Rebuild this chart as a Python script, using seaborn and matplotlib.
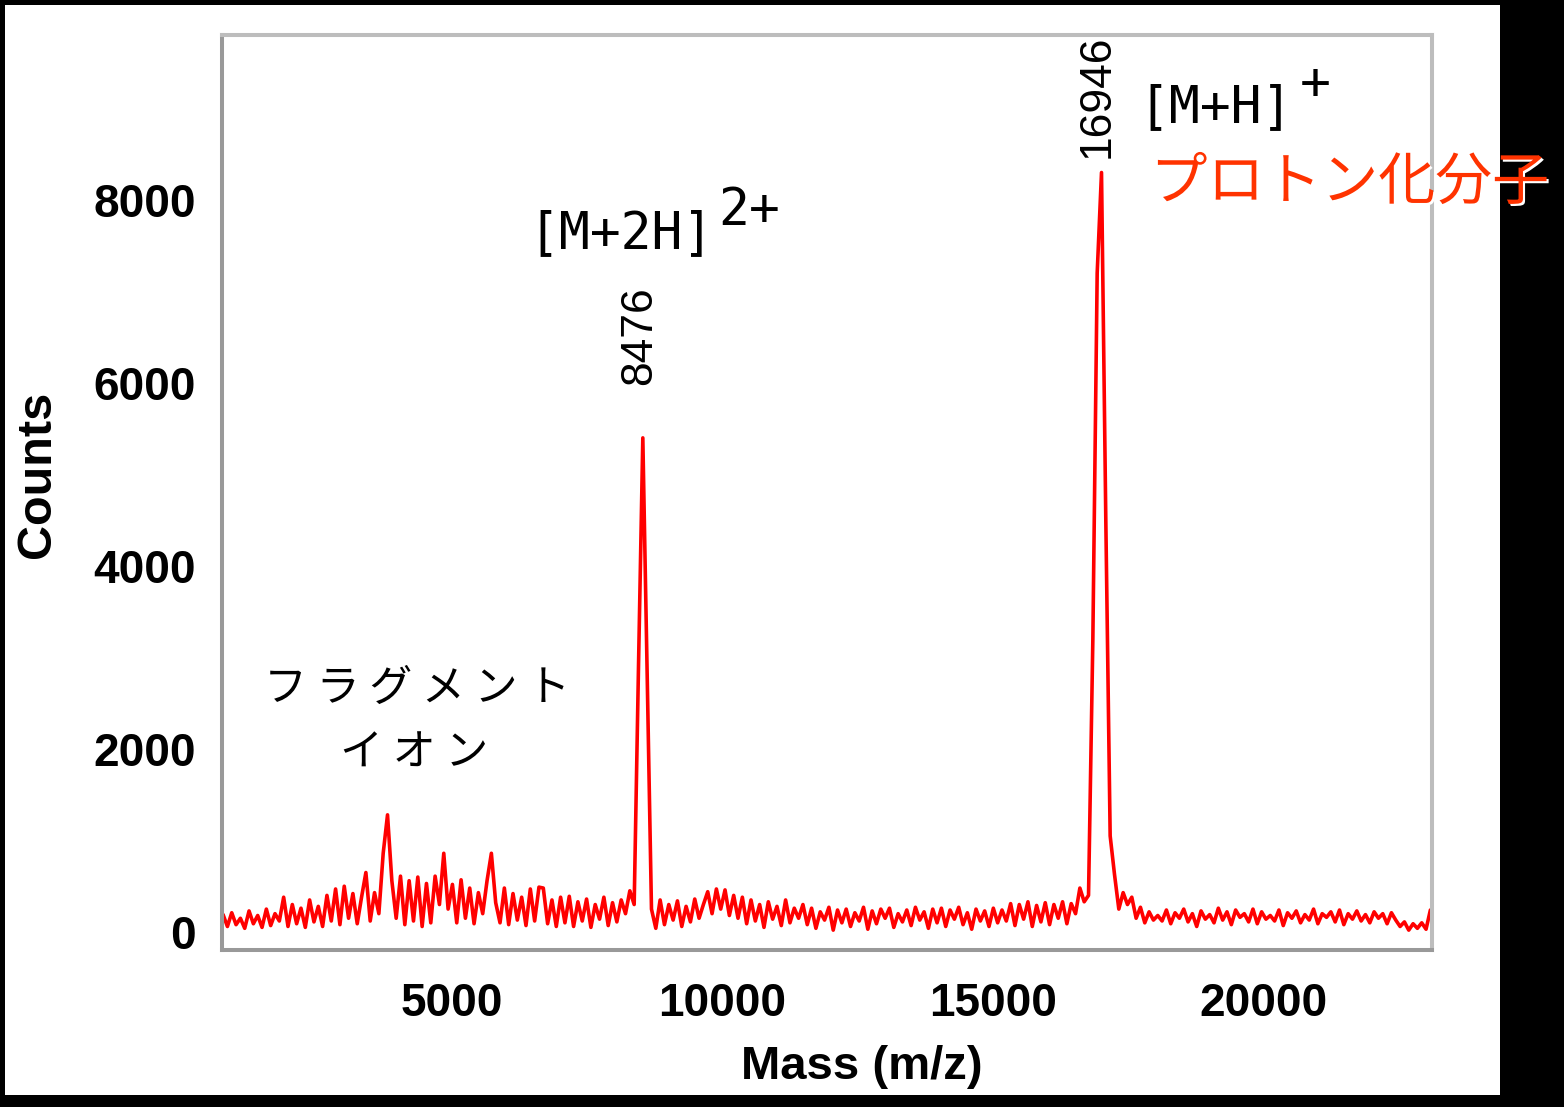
import numpy as np
import pandas as pd
import matplotlib
matplotlib.use("Agg")
import matplotlib.pyplot as plt
import matplotlib.patheffects as pe
from matplotlib.patches import Rectangle
import seaborn as sns

# spectrum sampled every 80 Da, stored as segments (start mass, counts)
MASS_STEP = 80

# fragment ion region, starts at 770 Da
noise_low = [190, 60, 210, 80, 150, 40, 230, 90, 180, 50, 250, 70, 200,
             120, 380, 60, 300, 90, 260, 50, 350, 110, 280, 60, 400,
             120, 470, 80, 500, 150, 420, 90, 380, 650, 120, 430, 200,
             860, 1280, 560,
             150, 610, 80, 560, 120, 600, 60, 530, 100, 610, 300,
             860,
             250, 520, 100, 570, 150, 480, 90, 430, 200, 560, 860, 320, 100,
             480, 80, 420, 130, 380, 70, 470, 120, 490, 480, 90, 350, 60, 380,
             100, 390, 60, 330, 120, 360, 50, 300, 140, 380, 70, 320, 110, 350, 200, 450, 300]
noise_low_start = 770

# [M+2H]2+ peak
peak_2h = [2900, 5400, 2800]
peak_2h_start = 8450

noise_mid = [250, 40, 350, 80, 300, 130, 340, 60, 280, 110, 360, 150,
             300, 440, 200, 470, 250, 460, 180, 400, 150, 380,
             90, 350, 120, 300, 50, 330, 140, 280, 70, 350, 100, 260, 150, 300,
             80, 260, 40, 220, 130, 270, 20, 240, 100, 250,
             60, 210, 120, 270, 30, 230, 90, 250, 150, 260,
             50, 200, 110, 240, 70, 270, 130, 220, 40, 250,
             100, 260, 60, 240, 140, 270, 80, 210, 30, 250,
             120, 230, 60, 260, 100, 240,
             120, 310, 70, 300, 140, 330, 60, 290, 110, 320, 80, 300, 150, 330, 90, 310, 200,
             480, 330, 400]
noise_mid_start = 8690

# [M+H]+ peak
peak_h = [3200, 7200, 8300, 4480, 1050, 630]
peak_h_start = 16850

noise_high = [250, 430, 300, 380, 150, 270, 100, 220, 130,
              180, 120, 240, 90, 210, 150, 250, 110, 200, 60,
              230, 140, 190, 100, 260, 130, 220, 80, 240, 160,
              200, 110, 250, 90, 220, 140, 180, 120, 240, 70,
              210, 150, 230, 100, 190, 130, 250, 90, 200, 160,
              220, 110, 240, 80, 200, 140, 230, 120, 190, 100,
              220, 150, 200, 90, 210, 130,
              60, 110, 20, 90, 40, 100, 30, 240]
noise_high_start = 17330

mass_ticks = [5000, 10000, 15000, 20000]
count_ticks = [0, 2000, 4000, 6000, 8000]

segments = [(noise_low_start, noise_low), (peak_2h_start, peak_2h),
            (noise_mid_start, noise_mid), (peak_h_start, peak_h),
            (noise_high_start, noise_high)]
frames = []
for start, vals in segments:
    frames.append(pd.DataFrame({
        "mass": start + MASS_STEP * np.arange(len(vals)),
        "counts": vals,
    }))
df = pd.concat(frames, ignore_index=True).sort_values("mass")

sns.set_style("white")
plt.rcParams["font.family"] = ["Liberation Sans", "DejaVu Sans"]
plt.rcParams["text.color"] = "black"
plt.rcParams["axes.labelcolor"] = "black"

W, H = 1564, 1107
fig = plt.figure(figsize=(W / 100, H / 100), dpi=100, facecolor="black")
fig.patches.append(Rectangle((5 / W, 12 / H), 1495 / W, 1090 / H,
                             transform=fig.transFigure, facecolor="white",
                             edgecolor="none", zorder=-1))

ax = fig.add_axes([222 / W, 1 - 950 / H, 1210 / W, 915 / H])
sns.lineplot(data=df, x="mass", y="counts", ax=ax, color="#ff0000",
             linewidth=2.6, estimator=None, sort=False)

ax.set_xlim(750, 23120)
ax.set_ylim(-197, 9803)
ax.set_xticks(mass_ticks, labels=[str(t) for t in mass_ticks],
              fontsize=33, fontweight="bold")
ax.set_yticks(count_ticks, labels=[str(t) for t in count_ticks],
              fontsize=33, fontweight="bold")
ax.tick_params(axis="both", direction="out", length=15, width=3.5,
               color="#8a8a8a", labelcolor="black")
ax.tick_params(axis="x", pad=8)
ax.tick_params(axis="y", pad=4)

for side in ["left", "bottom"]:
    ax.spines[side].set_color("#999999")
    ax.spines[side].set_linewidth(2.9)
for side in ["top", "right"]:
    ax.spines[side].set_color("#bdbdbd")
    ax.spines[side].set_linewidth(2.9)

ax.set_xlabel("Mass (m/z)", fontsize=34, fontweight="bold")
ax.set_ylabel("Counts", fontsize=35, fontweight="bold")
ax.xaxis.set_label_coords(0.529, -0.104)
ax.yaxis.set_label_coords(-0.134, 0.52)

# peak mass labels
p2 = df.loc[df["mass"].between(8400, 8700)].sort_values("counts").iloc[-1]
p1 = df.loc[df["mass"].between(16800, 17200)].sort_values("counts").iloc[-1]
ax.annotate("8476", xy=(p2["mass"], p2["counts"]), xytext=(-3, 102),
            textcoords="offset pixels", rotation=90, ha="center", va="center",
            fontsize=32)
ax.annotate("16946", xy=(p1["mass"], p1["counts"]), xytext=(-4, 76),
            textcoords="offset pixels", rotation=90, ha="center", va="center",
            fontsize=32, annotation_clip=False)


def fpos(x, y):
    return x / W, 1 - y / H


mono = dict(family="DejaVu Sans Mono", fontsize=37, color="black")
fig.text(*fpos(528, 234), "[M+2H]", ha="left", va="center", **mono)
fig.text(*fpos(718, 211), "2+", ha="left", va="center", **mono)
fig.text(*fpos(1138, 108), "[M+H]", ha="left", va="center", **mono)
fig.text(*fpos(1315, 85), "+", ha="center", va="center", **mono)

jp = ["Noto Sans CJK JP", "DejaVu Sans"]
fig.text(*fpos(417, 689), "フ ラ グ メ ン ト", ha="center", va="center",
         family=jp, fontsize=31, color="black")
fig.text(*fpos(414, 754), "イ オ ン", ha="center", va="center",
         family=jp, fontsize=31, color="black")
fig.text(*fpos(1350, 183), "プロトン化分子", ha="center", va="center",
         family=jp, fontsize=41, color="#ff3300",
         path_effects=[pe.withSimplePatchShadow(offset=(1.5, -1.5),
                                                shadow_rgbFace="white", alpha=1)])

fig.savefig("out.png", dpi=100, facecolor=fig.get_facecolor())
